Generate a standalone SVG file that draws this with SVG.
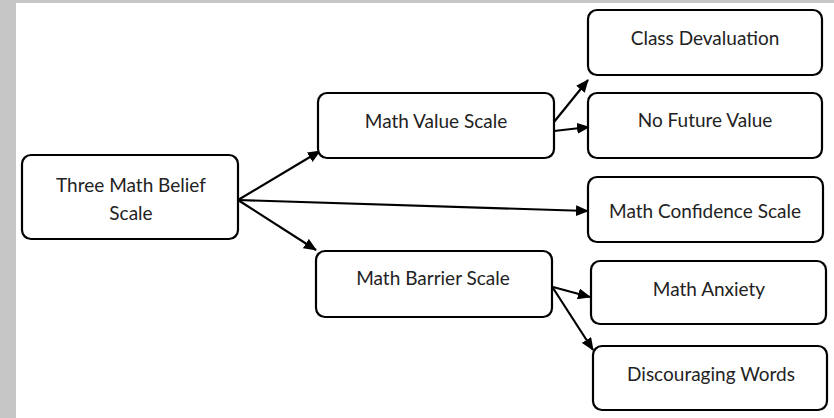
<svg xmlns="http://www.w3.org/2000/svg" width="834" height="418" viewBox="0 0 834 418">
<defs>
<style>
.box{fill:#fff;stroke:#000;stroke-width:2.2}
.lbl{font-family:Lato,"Liberation Sans",sans-serif;font-size:19px;fill:#222;text-anchor:middle}
.con{stroke:#000;stroke-width:2.2;fill:none}
</style>
<marker id="ah" viewBox="0 0 13 11" refX="12" refY="5.5" markerWidth="13" markerHeight="11" markerUnits="userSpaceOnUse" orient="auto">
<path d="M0,0 L13,5.5 L0,11 Z" fill="#000"/>
</marker>
</defs>
<rect x="0" y="0" width="834" height="418" fill="#c6c6c6"/>
<rect x="16" y="3" width="818" height="415" fill="#fff"/>
<g id="connectors">
<line class="con" x1="238" y1="200" x2="320" y2="151" marker-end="url(#ah)"/>
<line class="con" x1="238" y1="200" x2="588" y2="211" marker-end="url(#ah)"/>
<line class="con" x1="238" y1="200" x2="316" y2="250" marker-end="url(#ah)"/>
<line class="con" x1="554" y1="122" x2="588" y2="80" marker-end="url(#ah)"/>
<line class="con" x1="554" y1="131" x2="589" y2="127" marker-end="url(#ah)"/>
<line class="con" x1="553" y1="287" x2="590" y2="297" marker-end="url(#ah)"/>
<line class="con" x1="553" y1="288" x2="593" y2="350" marker-end="url(#ah)"/>
</g>
<g id="n-belief">
<rect class="box" x="22" y="155" width="216" height="84" rx="9"/>
<text class="lbl" x="131" y="192">Three Math Belief</text>
<text class="lbl" x="131" y="220">Scale</text>
</g>
<g id="n-value">
<rect class="box" x="318" y="93" width="236" height="65" rx="9"/>
<text class="lbl" x="436" y="128">Math Value Scale</text>
</g>
<g id="n-barrier">
<rect class="box" x="316" y="251" width="236" height="66" rx="9"/>
<text class="lbl" x="433" y="285">Math Barrier Scale</text>
</g>
<g id="n-devaluation">
<rect class="box" x="588" y="10" width="234" height="65" rx="9"/>
<text class="lbl" x="705" y="45">Class Devaluation</text>
</g>
<g id="n-future">
<rect class="box" x="588" y="93" width="234" height="65" rx="9"/>
<text class="lbl" x="705" y="127">No Future Value</text>
</g>
<g id="n-confidence">
<rect class="box" x="588" y="177" width="235" height="65" rx="9"/>
<text class="lbl" x="705" y="218">Math Confidence Scale</text>
</g>
<g id="n-anxiety">
<rect class="box" x="591" y="261" width="235" height="63" rx="9"/>
<text class="lbl" x="709" y="296">Math Anxiety</text>
</g>
<g id="n-discouraging">
<rect class="box" x="593" y="346" width="234" height="64" rx="9"/>
<text class="lbl" x="711" y="381">Discouraging Words</text>
</g>
</svg>
